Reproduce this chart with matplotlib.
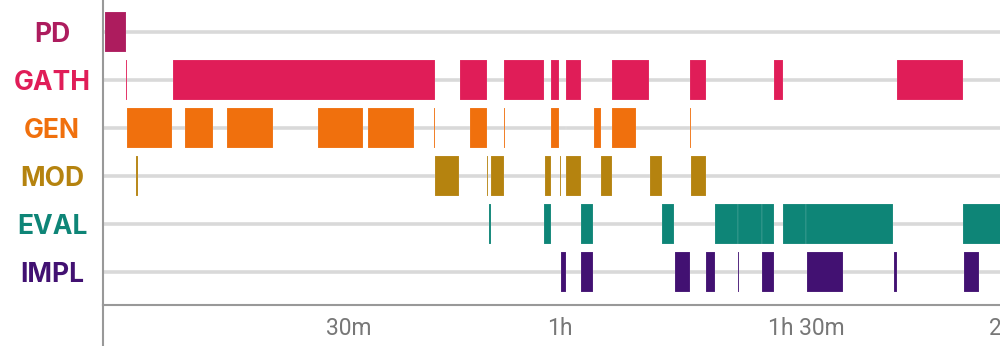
import matplotlib
matplotlib.use("Agg")
import matplotlib.pyplot as plt
from matplotlib.lines import Line2D

# Activity spans per phase, in minutes from session start: (start, end)
categories = ["PD", "GATH", "GEN", "MOD", "EVAL", "IMPL"]
colors = ["#ad1c5e", "#e01d58", "#f0700d", "#b5830f", "#0e8577", "#421172"]

pd_spans = [(0.0, 2.8)]
gath_spans = [(2.85, 2.92), (9.2, 44.8), (48.15, 51.86), (54.2, 59.6), (59.75, 59.8),
              (60.6, 61.7), (62.6, 64.6), (68.9, 73.9), (79.5, 81.6), (90.8, 92.1),
              (107.6, 116.5)]
gen_spans = [(2.95, 9.1), (10.87, 14.67), (16.6, 22.8), (28.9, 35.0), (35.65, 42.0),
             (44.62, 44.82), (49.5, 51.9), (54.2, 54.25), (60.6, 61.7), (62.6, 62.65),
             (66.4, 67.3), (68.9, 72.1), (79.5, 79.55)]
mod_spans = [(4.2, 4.5), (44.8, 48.1), (51.8, 52.0), (52.4, 54.2), (59.7, 60.55),
             (61.8, 61.85), (62.6, 64.6), (67.3, 68.9), (74.0, 75.7), (79.6, 81.6)]
eval_spans = [(52.1, 52.38), (59.65, 60.55), (64.7, 66.3), (75.7, 77.3), (82.9, 86.0),
              (86.0, 89.2), (89.2, 90.8), (92.1, 95.2), (95.2, 107.0), (116.5, 125.0)]
impl_spans = [(61.9, 62.6), (64.7, 66.3), (77.4, 79.45), (81.6, 82.9), (86.0, 86.05),
              (89.2, 90.8), (95.3, 100.2), (107.1, 107.6), (116.7, 118.7)]
spans = [pd_spans, gath_spans, gen_spans, mod_spans, eval_spans, impl_spans]

tick_minutes = [30, 60, 90, 120]
tick_labels = ["30m", "1h", "1h 30m", "2h"]

fig = plt.figure(figsize=(10, 3.46), dpi=100)
ax = fig.add_axes([0.103, 1 - 305 / 346, 0.897, 305 / 346])

bar_h = 0.83
for row, (segs, col) in enumerate(zip(spans, colors)):
    ax.broken_barh([(s, e - s) for s, e in segs], (row - bar_h / 2, bar_h),
                   facecolors=col, edgecolors=(1, 1, 1, 0.3), linewidth=0.3,
                   zorder=3)

ax.set_xlim(-0.31, 121.56)
ax.set_ylim(5.6875, -0.667)

# Row labels
ax.set_yticks(range(len(categories)))
ax.set_yticklabels(categories)
ax.tick_params(axis="y", length=0, pad=36.7)
for lab, col in zip(ax.get_yticklabels(), colors):
    lab.set_color(col)
    lab.set_horizontalalignment("center")
    lab.set_fontfamily(["Inter", "DejaVu Sans"])
    lab.set_fontweight("bold")
    lab.set_fontsize(19)

ax.yaxis.grid(True, color="#d9d9d9", linewidth=2.6, zorder=0)
ax.set_axisbelow(True)

# Time axis
ax.set_xticks(tick_minutes)
ax.set_xticklabels(tick_labels)
ax.tick_params(axis="x", length=0, pad=8.5)
for lab in ax.get_xticklabels():
    lab.set_horizontalalignment("left")
    lab.set_color("#777777")
    lab.set_fontfamily(["Roboto", "DejaVu Sans"])
    lab.set_fontsize(16.5)

for side in ["top", "right"]:
    ax.spines[side].set_visible(False)
for side in ["left", "bottom"]:
    ax.spines[side].set_color("#999999")
    ax.spines[side].set_linewidth(1.5)

# Left rule continues down through the tick-label band
fig.add_artist(Line2D([0.103, 0.103], [0, 1 - 305 / 346], transform=fig.transFigure,
                      color="#999999", linewidth=1.5))

fig.savefig("out.png", dpi=100)
